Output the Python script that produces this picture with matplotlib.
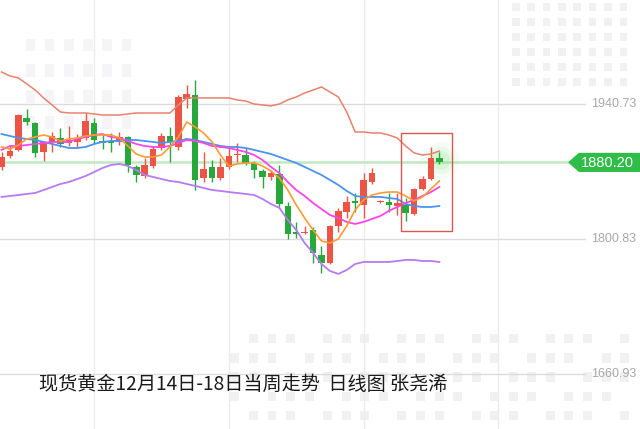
import numpy as np
import matplotlib
matplotlib.use("Agg")
import matplotlib.pyplot as plt
from matplotlib.patches import Rectangle, Polygon

# ------------------------------ Data ------------------------------

opens = [1875.5, 1886.8, 1893.1, 1926.2, 1921.0, 1891.0, 1901.4, 1905.5, 1900.3, 1901.4,
         1905.5, 1921.0, 1902.4, 1902.4, 1901.4, 1906.5, 1875.5, 1866.1, 1876.5, 1895.1,
         1907.6, 1896.2, 1945.9, 1950.1, 1864.0, 1875.5, 1864.0, 1875.5, 1887.4, 1887.9,
         1879.6, 1871.3, 1865.1, 1868.2, 1835.0, 1807.6, 1807.1, 1810.2, 1784.3, 1776.0,
         1814.3, 1828.8, 1840.2, 1836.1, 1859.9, 1839.2, 1839.2, 1835.0, 1836.1, 1826.7,
         1852.7, 1863.0, 1884.8]
closes = [1885.8, 1892.0, 1929.3, 1922.1, 1890.0, 1901.4, 1907.6, 1899.3, 1903.4, 1905.5,
          1923.1, 1903.4, 1900.3, 1900.3, 1906.5, 1877.5, 1867.2, 1877.5, 1894.1, 1907.6,
          1901.4, 1948.0, 1951.1, 1862.0, 1873.4, 1864.0, 1875.5, 1886.8, 1888.9, 1879.6,
          1872.3, 1865.1, 1869.2, 1837.1, 1806.0, 1806.0, 1808.1, 1786.3, 1776.0, 1814.3,
          1829.9, 1839.2, 1838.1, 1862.0, 1869.2, 1840.2, 1836.1, 1838.1, 1827.8, 1852.7,
          1863.0, 1884.8, 1880.2]
highs = [1891.0, 1897.2, 1930.4, 1935.6, 1922.1, 1902.4, 1911.7, 1915.9, 1917.9, 1909.6,
         1931.4, 1926.2, 1908.6, 1910.7, 1911.7, 1907.6, 1877.5, 1884.8, 1897.2, 1910.7,
         1916.9, 1950.1, 1960.4, 1965.6, 1891.0, 1882.7, 1884.8, 1895.1, 1900.3, 1895.1,
         1881.7, 1873.4, 1872.3, 1877.5, 1839.2, 1818.5, 1814.3, 1813.3, 1793.6, 1815.3,
         1833.0, 1845.4, 1848.5, 1869.2, 1874.4, 1841.3, 1848.5, 1848.5, 1843.3, 1853.7,
         1866.1, 1896.2, 1891.0]
lows = [1872.3, 1884.8, 1892.0, 1919.0, 1885.8, 1881.7, 1891.0, 1896.2, 1897.2, 1895.1,
        1903.4, 1900.3, 1894.1, 1891.0, 1898.2, 1870.3, 1859.9, 1864.0, 1874.4, 1893.1,
        1880.6, 1893.1, 1936.6, 1851.6, 1859.9, 1859.9, 1862.0, 1873.4, 1880.6, 1877.5,
        1864.0, 1853.7, 1862.0, 1834.0, 1800.8, 1801.9, 1806.0, 1776.0, 1765.6, 1774.9,
        1808.1, 1822.6, 1828.8, 1822.6, 1857.8, 1838.1, 1828.8, 1825.7, 1819.5, 1825.7,
        1851.6, 1862.0, 1878.6]

boll_upper = [1973.9, 1969.8, 1967.7, 1961.5, 1955.2, 1947.0, 1939.7, 1932.4, 1931.4, 1931.4,
              1931.4, 1930.4, 1929.3, 1929.3, 1929.3, 1930.4, 1931.4, 1931.4, 1931.4, 1931.4,
              1931.4, 1939.7, 1947.0, 1947.0, 1947.0, 1947.0, 1947.0, 1947.0, 1944.9, 1943.8,
              1940.7, 1939.7, 1938.7, 1940.7, 1944.9, 1948.0, 1952.1, 1955.2, 1958.4, 1953.2,
              1948.0, 1932.4, 1911.7, 1911.7, 1910.7, 1910.7, 1908.6, 1905.5, 1897.2, 1890.0,
              1887.9, 1888.9, 1892.0]
boll_mid = [1909.6, 1907.6, 1905.5, 1904.5, 1903.4, 1901.4, 1899.3, 1897.2, 1895.1, 1895.1,
            1896.2, 1899.3, 1901.4, 1902.4, 1902.4, 1903.4, 1903.4, 1902.4, 1901.4, 1900.3,
            1901.4, 1902.4, 1904.5, 1903.4, 1901.4, 1899.3, 1897.2, 1896.2, 1896.2, 1895.1,
            1893.1, 1891.0, 1888.9, 1885.8, 1882.7, 1879.6, 1875.5, 1871.3, 1867.2, 1862.0,
            1856.8, 1850.6, 1845.4, 1844.4, 1844.4, 1844.4, 1843.3, 1842.3, 1837.1, 1835.0,
            1834.0, 1834.0, 1835.0]
boll_lower = [1844.4, 1845.4, 1846.4, 1847.5, 1848.5, 1851.6, 1854.7, 1857.8, 1859.9, 1863.0,
              1866.1, 1870.3, 1874.4, 1877.5, 1878.6, 1876.5, 1872.3, 1867.2, 1865.1, 1863.0,
              1860.9, 1859.9, 1857.8, 1855.8, 1853.7, 1851.6, 1850.6, 1849.5, 1848.5, 1847.5,
              1846.4, 1842.3, 1837.1, 1833.0, 1820.5, 1810.2, 1796.7, 1786.3, 1774.9, 1767.7,
              1764.6, 1768.7, 1774.9, 1777.0, 1777.0, 1777.0, 1777.0, 1778.0, 1779.1, 1779.1,
              1778.0, 1778.0, 1777.0]
ma5 = [1896.2, 1894.1, 1898.2, 1904.5, 1906.5, 1908.6, 1906.5, 1902.4, 1904.5, 1905.5,
       1907.6, 1908.6, 1908.6, 1908.6, 1905.5, 1897.2, 1888.9, 1885.8, 1885.8, 1887.9,
       1896.2, 1906.5, 1922.1, 1916.9, 1910.7, 1901.4, 1887.9, 1876.5, 1878.6, 1879.6,
       1879.6, 1876.5, 1871.3, 1864.0, 1851.6, 1836.1, 1822.6, 1810.2, 1798.8, 1796.7,
       1800.8, 1814.3, 1830.9, 1841.3, 1846.4, 1848.5, 1849.5, 1849.5, 1845.4, 1840.2,
       1844.4, 1852.7, 1860.9]
ma10 = [1893.1, 1897.2, 1897.2, 1898.2, 1899.3, 1900.3, 1901.4, 1901.4, 1901.4, 1904.5,
        1906.5, 1908.6, 1909.6, 1906.5, 1905.5, 1902.4, 1899.3, 1897.2, 1896.2, 1896.2,
        1897.2, 1900.3, 1903.4, 1902.4, 1900.3, 1897.2, 1896.2, 1895.1, 1893.1, 1891.0,
        1887.9, 1882.7, 1875.5, 1869.2, 1859.9, 1851.6, 1845.4, 1838.1, 1831.9, 1825.7,
        1822.6, 1818.5, 1816.4, 1818.5, 1821.6, 1824.7, 1829.9, 1834.0, 1838.1, 1841.3,
        1845.4, 1849.5, 1854.7]

last_price = 1880.20
grid_levels = [1940.73, 1800.83, 1660.93]
grid_labels = ["1940.73", "1800.83", "1660.93"]
week_box = (47.5, 53.5, 1809.1, 1910.7)     # candle range and price range of the red box
title_text = "现货黄金12月14日-18日当周走势  日线图 张尧浠"

# ------------------------------ Styles ------------------------------

up_color = '#ec5445'
down_color = '#27a83a'
x_min, x_max = -0.18, 75.83
y_min, y_max = 1603.9, 2048.5

fig = plt.figure(figsize=(6.4, 4.29), dpi=100)
ax = fig.add_axes([0, 0, 1, 1])
ax.set_xlim(x_min, x_max)
ax.set_ylim(y_min, y_max)
ax.axis('off')

# faint "building windows" watermark in the background
win = '#f1f1f3'
for col in range(8):
    for row in range(6):
        ax.add_patch(Rectangle((0.80 + col * 0.024, 0.80 + row * 0.035), 0.012, 0.018,
                               transform=ax.transAxes, color=win, lw=0, zorder=0))
for col in range(22):
    for row in range(5):
        if (col * 3 + row) % 4 == 0:
            continue
        ax.add_patch(Rectangle((0.36 + col * 0.029, 0.02 + row * 0.045), 0.014, 0.022,
                               transform=ax.transAxes, color=win, lw=0, zorder=0))
for col in range(6):
    for row in range(4):
        ax.add_patch(Rectangle((0.04 + col * 0.03, 0.70 + row * 0.06), 0.015, 0.03,
                               transform=ax.transAxes, color='#f5f5f7', lw=0, zorder=0))

# ------------------------------ Grid ------------------------------

for i in [11, 27, 43, 59]:
    ax.axvline(i, color='#ececec', lw=1.0, zorder=0.5)
for lvl, lab in zip(grid_levels, grid_labels):
    ax.plot([x_min, 69.3], [lvl, lvl], color='#dcdcdc', lw=1.0, zorder=1)
    ax.text(75.4, lvl, lab, ha='right', va='center', fontsize=9,
            family='Liberation Sans', color='#a8a8a8')

# last price line
ax.plot([x_min, 67.4], [last_price, last_price], color='#bfeac0', lw=1.8, zorder=1)

# ------------------------------ Candles ------------------------------

idx = np.arange(len(opens))
o = np.array(opens)
c = np.array(closes)
colors = [up_color if cc >= oo else down_color for oo, cc in zip(o, c)]
ax.vlines(idx, lows, highs, colors=colors, lw=1.0, zorder=3)
body_h = np.maximum(np.abs(c - o), 1.2)
ax.bar(idx, body_h, bottom=np.minimum(o, c), width=0.78, color=colors, zorder=4)

# glow on the last candle
for s, a in [(700, 0.06), (380, 0.09), (180, 0.14)]:
    ax.scatter(idx[-1] + 0.2, last_price + 2, s=s, color='#66dd66', alpha=a,
               edgecolors='none', zorder=2)

# ------------------------------ Indicator lines ------------------------------

ax.plot(idx, boll_upper, color='#e8826c', lw=1.1, zorder=5)
ax.plot(idx, boll_lower, color='#b57bf2', lw=1.3, zorder=5)
ax.plot(idx, boll_mid, color='#4b93ee', lw=1.3, zorder=5)
ax.plot(idx, ma10, color='#fb45e6', lw=1.3, zorder=6)
ax.plot(idx, ma5, color='#ff9a33', lw=1.2, zorder=6)

# red box around the week
bx0, bx1, by0, by1 = week_box
ax.add_patch(Rectangle((bx0, by0), bx1 - bx0, by1 - by0, fill=False,
                       edgecolor='#d9584f', lw=1.0, zorder=7))

# ------------------------------ Price tag ------------------------------

tag = Polygon([[67.4, last_price], [68.6, last_price + 9.2], [x_max, last_price + 9.2],
               [x_max, last_price - 9.2], [68.6, last_price - 9.2]],
              closed=True, color='#2fbd48', zorder=8)
ax.add_patch(tag)
ax.text(72.0, last_price - 0.5, f"{last_price:.2f}", ha='center', va='center',
        fontsize=10.5, family='Liberation Sans', color='white', zorder=9)

# ------------------------------ Caption ------------------------------

ax.text(4.45, 1650.5, title_text, ha='left', va='center', fontsize=13.8,
        family=['Noto Sans CJK SC', 'DejaVu Sans'], color='#1a1a1a', zorder=9)

plt.savefig("out.png", dpi=100)
